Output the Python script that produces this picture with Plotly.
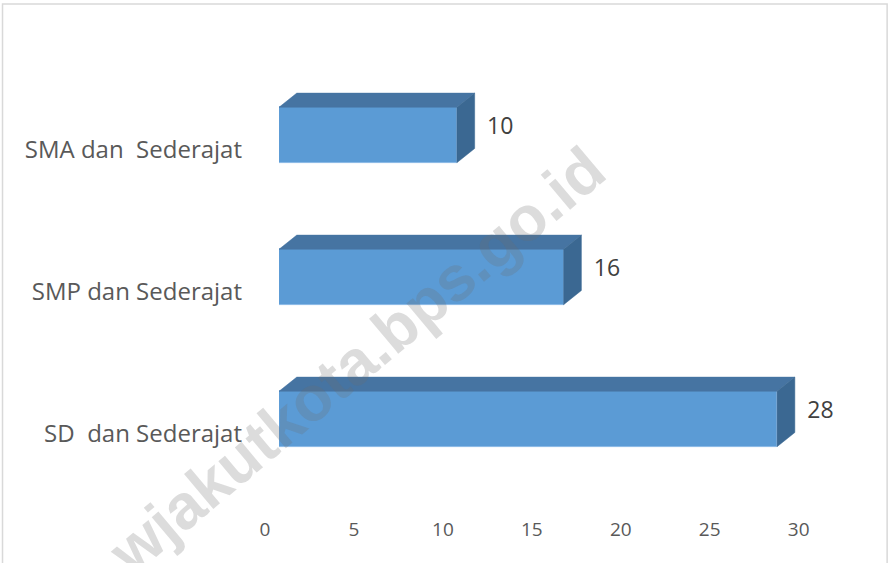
import plotly.graph_objects as go

# ---- data ----
categories = ["SD  dan Sederajat", "SMP dan Sederajat", "SMA dan  Sederajat"]
values = [28, 16, 10]
x_ticks = [0, 5, 10, 15, 20, 25, 30]

# ---- 3D look (in axis units) ----
pos = list(range(len(categories)))
h = 0.39      # bar thickness
dx = 1.0      # depth offset along x
dy = 0.10     # depth offset along y

front = "#5B9BD5"
top_c = "#4674A2"
side_c = "#3B6892"

fig = go.Figure()

fig.add_trace(go.Bar(
    x=values, y=pos, orientation="h", width=h,
    marker=dict(color=front, line=dict(color="#7FB3E3", width=0.8)),
    hoverinfo="skip", showlegend=False,
))

tx, ty, sx, sy = [], [], [], []
for v, c in zip(values, pos):
    t = c + h / 2
    b = c - h / 2
    tx += [0, v, v + dx, dx, 0, None]
    ty += [t, t, t + dy, t + dy, t, None]
    sx += [v, v + dx, v + dx, v, v, None]
    sy += [b, b + dy, t + dy, t, b, None]

fig.add_trace(go.Scatter(x=tx, y=ty, mode="lines", fill="toself",
                         fillcolor=top_c, line=dict(color=top_c, width=0.5),
                         hoverinfo="skip", showlegend=False))
fig.add_trace(go.Scatter(x=sx, y=sy, mode="lines", fill="toself",
                         fillcolor=side_c, line=dict(color=side_c, width=0.5),
                         hoverinfo="skip", showlegend=False))

fig.add_trace(go.Scatter(
    x=[v + dx + 0.7 for v in values], y=[c + dy / 2 for c in pos],
    mode="text", text=[str(v) for v in values], textposition="middle right",
    textfont=dict(family="Open Sans", size=23, color="#404040"),
    hoverinfo="skip", showlegend=False,
))

fig.update_layout(
    width=890, height=563, autosize=False,
    margin=dict(l=279, r=24, t=64, b=73),
    paper_bgcolor="white", plot_bgcolor="white",
    bargap=0,
    xaxis=dict(range=[0, 33], tickvals=x_ticks, ticktext=[str(t) for t in x_ticks],
               showgrid=False, zeroline=False, showline=False, ticks="",
               ticklabelshift=-14, ticklabelstandoff=26,
               tickfont=dict(family="Open Sans", size=19, color="#595959")),
    yaxis=dict(range=[-0.5, 2.5], tickvals=pos, ticktext=categories,
               showgrid=False, zeroline=False, showline=False, ticks="",
               ticklabelshift=15, ticklabelstandoff=36,
               tickfont=dict(family="Open Sans", size=24, color="#595959")),
    shapes=[dict(type="rect", xref="paper", yref="paper",
                 x0=-0.471, x1=1.036, y0=-0.2, y1=1.141,
                 line=dict(color="#d9d9d9", width=1.5), fillcolor="rgba(0,0,0,0)",
                 layer="below")],
    annotations=[dict(text="<b>wjakutkota.bps.go.id</b>", xref="paper", yref="paper",
                      x=0.132, y=0.306, xanchor="center", yanchor="middle",
                      showarrow=False, textangle=-40,
                      font=dict(family="Liberation Sans", size=63,
                                color="rgba(110,110,110,0.24)"))],
)

fig.write_html("out.html", config={"displayModeBar": False},
               post_script="document.body.style.margin='0px';")
